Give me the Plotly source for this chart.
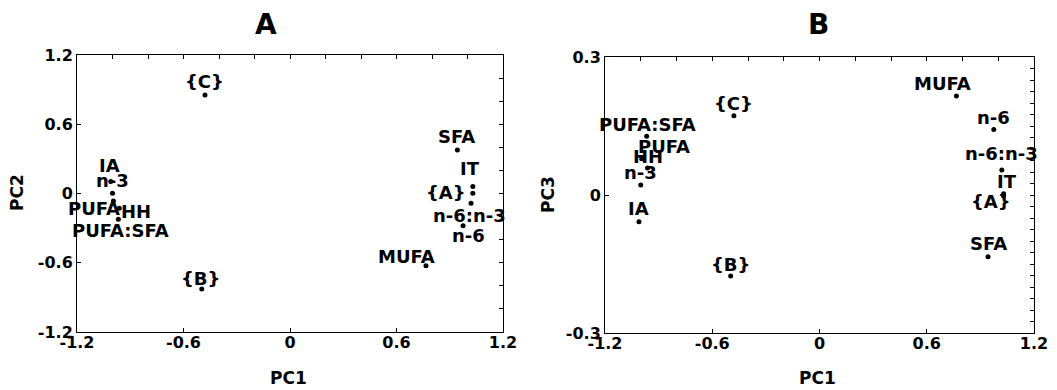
import plotly.graph_objects as go

# ---------------- data ----------------
names = ["IA", "n-3", "PUFA", "HH", "PUFA:SFA", "SFA", "IT", "n-6:n-3", "n-6", "MUFA", "{A}", "{B}", "{C}"]
pc1 = [-1.01, -1.00, -0.995, -0.962, -0.967, 0.943, 1.03, 1.02, 0.975, 0.766, 1.03, -0.497, -0.479]
pc2 = [0.105, 0.004, -0.063, -0.126, -0.221, 0.379, 0.062, -0.083, -0.279, -0.626, 0.004, -0.828, 0.856]
pc3 = [-0.058, 0.022, 0.079, 0.059, 0.128, -0.134, 0.003, 0.055, 0.143, 0.216, -0.002, -0.176, 0.173]

panel_titles = ["A", "B"]
x_title = "PC1"
y_titles = ["PC2", "PC3"]
x_ticks = [-1.2, -0.6, 0, 0.6, 1.2]
x_tick_text = ["-1.2", "-0.6", "0", "0.6", "1.2"]
pc2_ticks = [-1.2, -0.6, 0, 0.6, 1.2]
pc2_tick_text = ["-1.2", "-0.6", "0", "0.6", "1.2"]
pc3_ticks = [-0.3, 0, 0.3]
pc3_tick_text = ["-0.3", "0", "0.3"]

# ---------------- style ----------------
PAGE_OFF = 8          # default page margin of the html body
W, H = 1057 - PAGE_OFF, 390 - PAGE_OFF
FONT = "DejaVu Sans"
LABEL_SIZE = 18
TICK_SIZE = 16


def px(x):
    return (x - PAGE_OFF) / W


def py(y):
    return 1 - (y - PAGE_OFF) / H


# label pixel offsets (dx right, dy up) per label
offA = {"IA": (-1, 16), "n-3": (0, 13), "PUFA": (-19, -8), "HH": (17, -3), "PUFA:SFA": (2, -11),
        "SFA": (-1, 13), "IT": (-3, 18), "n-6:n-3": (-2, -12), "n-6": (5, -10), "MUFA": (-19, 9),
        "{A}": (-27, 1), "{B}": (-1, 11), "{C}": (0, 13)}
offB = {"IA": (0, 13), "n-3": (0, 13), "PUFA": (22, 12), "HH": (0, 12), "PUFA:SFA": (1, 12),
        "SFA": (0, 13), "IT": (3, 12), "n-6:n-3": (0, 16), "n-6": (0, 12), "MUFA": (-14, 12),
        "{A}": (-13, -5), "{B}": (0, 12), "{C}": (0, 12)}

domA_x = [px(77), px(503)]
domA_y = [py(332), py(55.3)]
domB_x = [px(605), px(1034)]
domB_y = [py(333), py(57.3)]

fig = go.Figure()

marker = dict(color="black", size=5)
fig.add_trace(go.Scatter(x=pc1, y=pc2, mode="markers", marker=marker, xaxis="x", yaxis="y",
                         hoverinfo="skip", showlegend=False))
fig.add_trace(go.Scatter(x=pc1, y=pc3, mode="markers", marker=marker, xaxis="x2", yaxis="y2",
                         hoverinfo="skip", showlegend=False))
# empty traces for the tick-only overlay axes
for xa, ya in [("x3", "y3"), ("x4", "y4")]:
    fig.add_trace(go.Scatter(x=[None], y=[None], mode="markers", xaxis=xa, yaxis=ya,
                             hoverinfo="skip", showlegend=False))

tickfont = dict(family=FONT, size=TICK_SIZE, color="black", weight="bold")


def main_axis(domain, rng, vals, text, anchor, standoff):
    return dict(domain=domain, range=rng, tickvals=vals, ticktext=text, ticks="inside", ticklen=4,
                tickcolor="black", showline=True, linecolor="black", linewidth=1, mirror=True,
                showgrid=False, zeroline=False, anchor=anchor, tickfont=tickfont, fixedrange=True,
                automargin=False, ticklabelstandoff=standoff)


def minor_axis(overlay, side, rng, step, anchor):
    n = int(round((rng[1] - rng[0]) / step))
    vals = [round(rng[0] + step * i, 4) for i in range(n + 1)]
    return dict(overlaying=overlay, side=side, range=rng, tickvals=vals, showticklabels=False,
                ticks="inside", ticklen=4, tickcolor="black", showline=False, showgrid=False,
                zeroline=False, anchor=anchor, fixedrange=True)


fig.update_layout(
    width=W, height=H, margin=dict(l=0, r=0, t=0, b=0),
    paper_bgcolor="white", plot_bgcolor="white", showlegend=False,
    xaxis=main_axis(domA_x, [-1.2, 1.2], x_ticks, x_tick_text, "y", -4),
    yaxis=main_axis(domA_y, [-1.2, 1.2], pc2_ticks, pc2_tick_text, "x", 0),
    xaxis2=main_axis(domB_x, [-1.2, 1.2], x_ticks, x_tick_text, "y2", -4),
    yaxis2=main_axis(domB_y, [-0.3, 0.3], pc3_ticks, pc3_tick_text, "x2", 0),
    xaxis3=minor_axis("x", "top", [-1.2, 1.2], 0.2, "y"),
    yaxis3=minor_axis("y", "right", [-1.2, 1.2], 0.2, "x"),
    xaxis4=minor_axis("x2", "top", [-1.2, 1.2], 0.2, "y2"),
    yaxis4=minor_axis("y2", "right", [-0.3, 0.3], 0.025, "x2"),
)

labfont = dict(family=FONT, size=LABEL_SIZE, color="black", weight="bold")
ann = []
for i, nm in enumerate(names):
    dx, dy = offA[nm]
    ann.append(dict(x=pc1[i], y=pc2[i], xref="x", yref="y", text=nm, showarrow=False,
                    xshift=dx, yshift=dy, font=labfont))
    dx, dy = offB[nm]
    ann.append(dict(x=pc1[i], y=pc3[i], xref="x2", yref="y2", text=nm, showarrow=False,
                    xshift=dx, yshift=dy, font=labfont))

titlefont = dict(family=FONT, size=28, color="black", weight="bold")
axfont = dict(family=FONT, size=17, color="black", weight="bold")
paper_txt = [
    (266, 24, panel_titles[0], titlefont, 0),
    (818, 24, panel_titles[1], titlefont, 0),
    (288, 378, x_title, axfont, 0),
    (817, 378, x_title, axfont, 0),
    (17, 193, y_titles[0], axfont, -90),
    (548, 195, y_titles[1], axfont, -90),
]
for x, y, t, f, ang in paper_txt:
    ann.append(dict(x=px(x), y=py(y), xref="paper", yref="paper", text=t, showarrow=False,
                    xanchor="center", yanchor="middle", textangle=ang, font=f))
fig.update_layout(annotations=ann)

fig.write_html("out.html")
